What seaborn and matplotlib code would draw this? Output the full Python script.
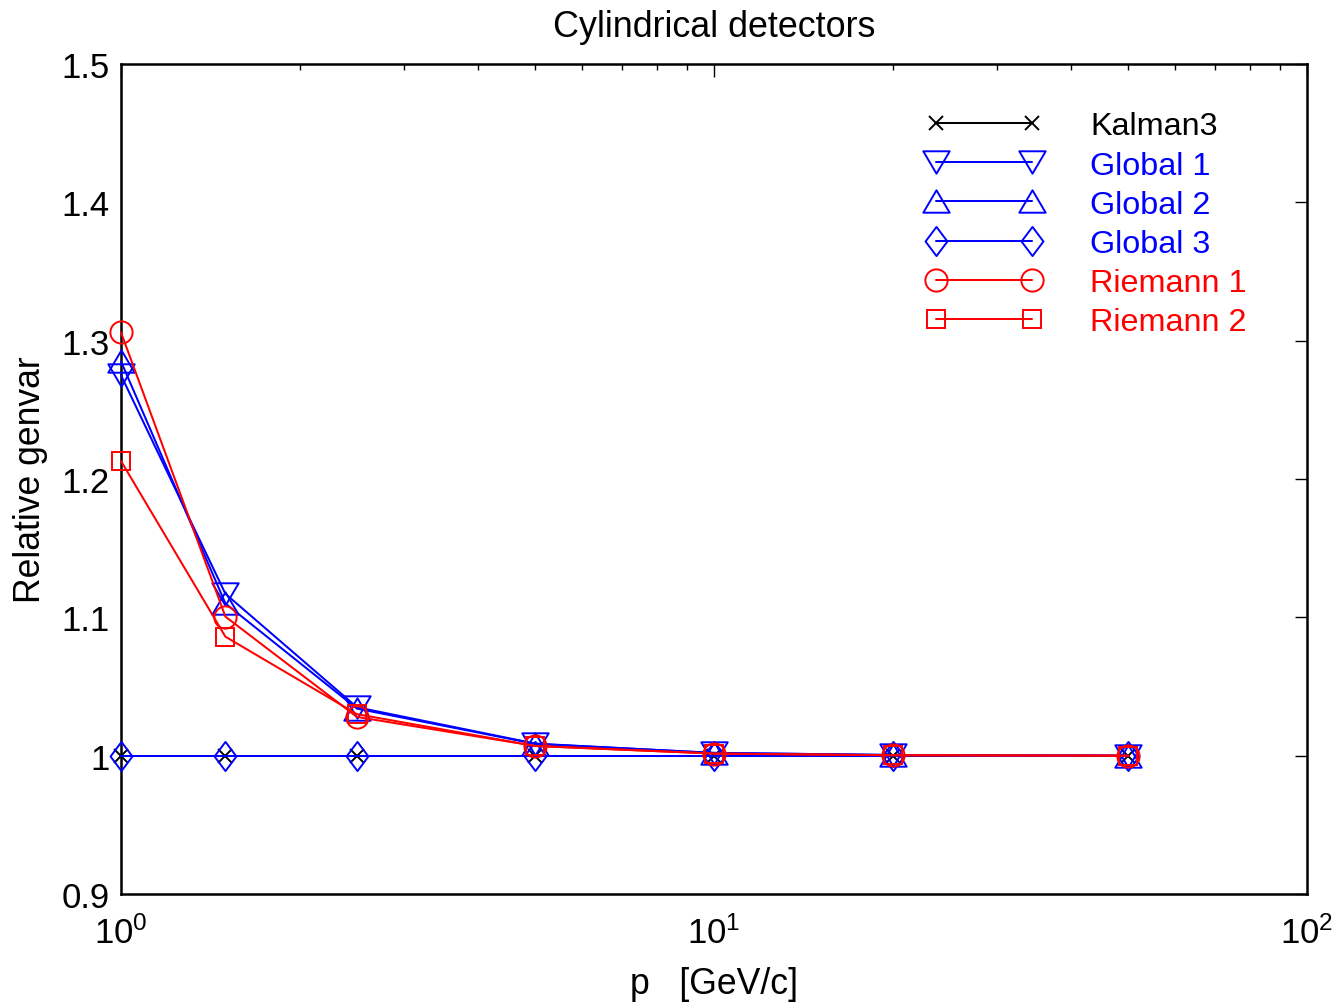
import numpy as np
import pandas as pd
import matplotlib
matplotlib.use("Agg")
import matplotlib.pyplot as plt
from matplotlib.path import Path
import seaborn as sns

# ---- data ----
p_values = [1, 1.5, 2.5, 5, 10, 20, 50]
kalman3 = [1.0, 1.0, 1.0, 1.0, 1.0, 1.0, 1.0]
global1 = [1.275, 1.117, 1.035, 1.0087, 1.002, 1.0005, 1.0]
global2 = [1.285, 1.110, 1.034, 1.0085, 1.002, 1.0005, 1.0]
global3 = [1.0, 1.0, 1.0, 1.0, 1.0, 1.0, 1.0]
riemann1 = [1.306, 1.1005, 1.028, 1.007, 1.0015, 1.0003, 1.0]
riemann2 = [1.213, 1.086, 1.030, 1.007, 1.0015, 1.0003, 1.0]
series_names = ["Kalman3", "Global 1", "Global 2", "Global 3", "Riemann 1", "Riemann 2"]
series_values = [kalman3, global1, global2, global3, riemann1, riemann2]
ytick_values = [0.9, 1.0, 1.1, 1.2, 1.3, 1.4, 1.5]
ytick_labels = ["0.9", "1", "1.1", "1.2", "1.3", "1.4", "1.5"]


# ---- styles ----
def closed(verts):
    pts = list(verts) + [verts[0]]
    codes = [Path.MOVETO] + [Path.LINETO] * (len(verts) - 1) + [Path.CLOSEPOLY]
    return Path(pts, codes)


tri_up = closed([(0, 0.85), (-1, -0.85), (1, -0.85)])
tri_dn = closed([(0, -0.85), (1, 0.85), (-1, 0.85)])
diamond = closed([(0, 1), (0.75, 0), (0, -1), (-0.75, 0)])
styles = {
    "Kalman3": dict(color="black", marker="x", ms=10.5),
    "Global 1": dict(color="blue", marker=tri_dn, ms=19),
    "Global 2": dict(color="blue", marker=tri_up, ms=19),
    "Global 3": dict(color="blue", marker=diamond, ms=21),
    "Riemann 1": dict(color="red", marker="o", ms=16),
    "Riemann 2": dict(color="red", marker="s", ms=13),
}

sns.set_theme(style="white")
plt.rcParams["font.family"] = ["Liberation Sans", "DejaVu Sans"]
plt.rcParams["mathtext.fontset"] = "custom"
plt.rcParams["mathtext.rm"] = "Liberation Sans"
plt.rcParams["mathtext.it"] = "Liberation Sans"
plt.rcParams["mathtext.bf"] = "Liberation Sans"
plt.rcParams["text.color"] = "black"
plt.rcParams["axes.labelcolor"] = "black"

fig = plt.figure(figsize=(13.39, 10.04), dpi=100)
ax = fig.add_axes([121 / 1339, 1 - 895 / 1004, (1307 - 121) / 1339, (895 - 65) / 1004])

df = pd.DataFrame({
    "p": np.tile(p_values, len(series_names)),
    "value": np.concatenate(series_values),
    "series": np.repeat(series_names, len(p_values)),
})

for name in series_names:
    st = styles[name]
    sub = df[df["series"] == name]
    sns.lineplot(data=sub, x="p", y="value", ax=ax, color=st["color"],
                 marker=st["marker"], markersize=st["ms"], markerfacecolor="none",
                 markeredgecolor=st["color"], markeredgewidth=1.4, linewidth=1.45,
                 label=name, errorbar=None, sort=False, clip_on=False, zorder=3)

ax.set_xscale("log")
ax.set_xlim(1, 100)
ax.set_ylim(0.9, 1.5)
ax.set_yticks(ytick_values)
ax.set_yticklabels(ytick_labels)

ax.tick_params(axis="both", which="both", direction="in", top=True, right=True,
               labelsize=25, colors="black")
ax.tick_params(axis="both", which="major", length=9, width=1.0)
ax.tick_params(axis="y", which="major", pad=8)
ax.tick_params(axis="x", which="major", pad=15)
ax.tick_params(axis="x", which="minor", length=4.5, width=1.0)
ax.tick_params(axis="y", which="minor", left=False, right=False)
for s in ax.spines.values():
    s.set_visible(True)
    s.set_color("black")
    s.set_linewidth(1.8)
    s.set_zorder(2)

ax.set_title("Cylindrical detectors", fontsize=25.8, pad=20, color="black")
ax.set_xlabel("p   [GeV/c]", fontsize=25.7, labelpad=12)
ax.set_ylabel("Relative genvar", fontsize=25.6, labelpad=10)
ax.grid(False)

handles, labels = ax.get_legend_handles_labels()
leg = ax.legend(handles, labels, loc="upper left", bbox_to_anchor=(0.679, 0.943),
                frameon=False, fontsize=23.3, numpoints=2, handlelength=3.57,
                handletextpad=1.5, labelspacing=0.285, borderpad=0, borderaxespad=0)
for text, line in zip(leg.get_texts(), leg.get_lines()):
    text.set_color(line.get_color())

fig.savefig("out.png", dpi=100)
